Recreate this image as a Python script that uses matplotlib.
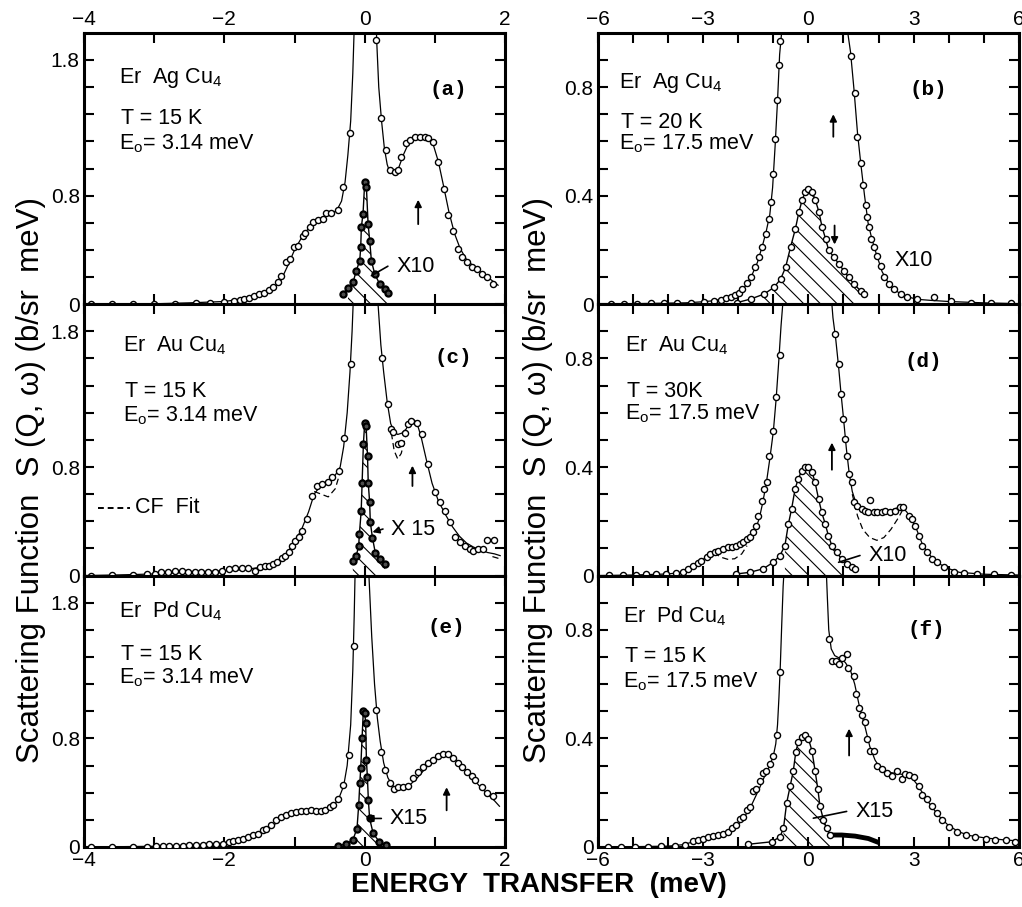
import numpy as np
import matplotlib
matplotlib.use("Agg")
from matplotlib import pyplot as plt

plt.rcParams['font.family'] = ['Liberation Sans', 'DejaVu Sans']
plt.rcParams['hatch.linewidth'] = 0.8
plt.rcParams['mathtext.fontset'] = 'custom'
plt.rcParams['mathtext.rm'] = 'Liberation Sans'

# ---------------- panel (a): ErAgCu4, T=15 K, E0=3.14 meV ----------------
a_pts_x = [-3.9, -3.6, -3.3, -3.0, -2.7, -2.4, -2.2, -2.0, -1.86, -1.78,
           -1.714, -1.643, -1.571, -1.5, -1.429, -1.357, -1.31, -1.238, -1.19, -1.119,
           -1.071, -1.01, -0.952, -0.881, -0.857, -0.786, -0.738, -0.667, -0.595, -0.548,
           -0.476, -0.381, -0.31, -0.214,
           0.167, 0.238, 0.31, 0.357, 0.429, 0.476, 0.524, 0.595, 0.643, 0.714,
           0.786, 0.857, 0.905, 0.976, 1.048, 1.133, 1.19, 1.262, 1.333, 1.381,
           1.452, 1.524, 1.595, 1.667, 1.738, 1.833]
a_pts_y = [0.0, 0.0, 0.002, 0.003, 0.005, 0.008, 0.012, 0.018, 0.025, 0.032,
           0.042, 0.049, 0.062, 0.074, 0.086, 0.104, 0.128, 0.16, 0.21, 0.309,
           0.333, 0.42, 0.432, 0.506, 0.523, 0.568, 0.605, 0.617, 0.63, 0.672,
           0.672, 0.696, 0.864, 1.259,
           1.95, 1.37, 1.136, 0.988, 0.975, 0.988, 1.086, 1.185, 1.21, 1.235,
           1.235, 1.23, 1.222, 1.198, 1.049, 0.852, 0.654, 0.543, 0.407, 0.346,
           0.309, 0.272, 0.259, 0.222, 0.202, 0.148]
a_fit_x = [-4, -3, -2.5, -2, -1.8, -1.6, -1.4, -1.3, -1.2, -1.1, -1.0, -0.9, -0.8, -0.7,
           -0.6, -0.5, -0.4, -0.33, -0.28, -0.24, -0.2, -0.17, -0.14, -0.12,
           0.14, 0.17, 0.2, 0.24, 0.28, 0.32, 0.36, 0.42, 0.48, 0.55, 0.62, 0.7, 0.8,
           0.9, 0.98, 1.05, 1.12, 1.2, 1.28, 1.36, 1.45, 1.55, 1.65, 1.75, 1.9]
a_fit_y = [0, 0.003, 0.01, 0.02, 0.035, 0.06, 0.09, 0.12, 0.17, 0.28, 0.40, 0.49, 0.56, 0.61,
           0.64, 0.66, 0.69, 0.76, 0.9, 1.1, 1.35, 1.7, 2.2, 2.6,
           2.6, 1.95, 1.6, 1.35, 1.15, 1.03, 0.97, 0.96, 1.0, 1.1, 1.18, 1.22, 1.235,
           1.22, 1.17, 1.05, 0.88, 0.68, 0.52, 0.41, 0.33, 0.28, 0.24, 0.2, 0.14]
a_el_x = [-0.31, -0.238, -0.167, -0.12, -0.071, -0.057, -0.048, -0.024, 0.0, 0.024,
          0.048, 0.071, 0.095, 0.143, 0.214, 0.286, 0.333]
a_el_y = [0.074, 0.123, 0.16, 0.247, 0.321, 0.42, 0.568, 0.667, 0.9, 0.864,
          0.593, 0.469, 0.321, 0.222, 0.148, 0.111, 0.086]

# ---------------- panel (b): ErAgCu4, T=20 K, E0=17.5 meV ----------------
b_pts_x = [-5.64, -5.26, -4.88, -4.5, -4.12, -3.74, -3.36, -2.98, -2.69, -2.5,
           -2.36, -2.22, -2.1, -1.98, -1.89, -1.74, -1.65, -1.51, -1.41, -1.32,
           -1.22, -1.13, -1.06, -1.0, -0.94, -0.89, -0.84, -0.81,
           1.22, 1.316, 1.39, 1.487, 1.563, 1.63, 1.677, 1.72, 1.77, 1.867,
           1.96, 2.06, 2.15, 2.29, 2.44, 2.63, 2.82, 3.10, 3.58, 4.05,
           4.62, 5.19, 5.76]
b_pts_y = [0.0, 0.0, 0.0025, 0.003, 0.004, 0.005, 0.006, 0.009, 0.012, 0.016,
           0.022, 0.027, 0.035, 0.043, 0.056, 0.077, 0.099, 0.136, 0.173, 0.21,
           0.259, 0.314, 0.377, 0.481, 0.607, 0.751, 0.88, 0.97,
           0.916, 0.778, 0.617, 0.519, 0.438, 0.364, 0.321, 0.284, 0.241, 0.21,
           0.179, 0.142, 0.099, 0.074, 0.056, 0.037, 0.027, 0.019, 0.025, 0.012,
           0.006, 0.005, 0.003]
b_fit_x = [-6, -5, -4, -3.5, -3, -2.7, -2.4, -2.2, -2.0, -1.8, -1.6, -1.45, -1.3, -1.2,
           -1.1, -1.02, -0.95, -0.88, -0.82, -0.75, -0.6,
           0.95, 1.1, 1.2, 1.3, 1.4, 1.5, 1.6, 1.7, 1.8, 1.9, 2.0, 2.1, 2.25, 2.4, 2.6,
           2.8, 3.1, 3.5, 4, 5, 6]
b_fit_y = [0, 0.002, 0.004, 0.005, 0.009, 0.013, 0.02, 0.028, 0.042, 0.066, 0.11, 0.155,
           0.22, 0.27, 0.33, 0.43, 0.58, 0.75, 0.92, 1.02, 1.2,
           1.2, 1.02, 0.93, 0.79, 0.63, 0.51, 0.4, 0.3, 0.245, 0.2, 0.16, 0.12, 0.085,
           0.06, 0.04, 0.028, 0.018, 0.014, 0.01, 0.005, 0.002]
b_el_x = [-2.03, -1.65, -1.27, -0.98, -0.79, -0.65, -0.51, -0.37, -0.27, -0.18,
          -0.09, 0.0, 0.11, 0.2, 0.3, 0.39, 0.49, 0.58, 0.73, 0.87,
          1.01, 1.15, 1.30, 1.49, 1.58]
b_el_y = [0.006, 0.019, 0.037, 0.062, 0.093, 0.136, 0.21, 0.278, 0.34, 0.383,
          0.414, 0.426, 0.414, 0.383, 0.34, 0.284, 0.241, 0.198, 0.173, 0.148,
          0.123, 0.099, 0.074, 0.049, 0.037]

# ---------------- panel (c): ErAuCu4, T=15 K, E0=3.14 meV ----------------
c_pts_x = [-3.9, -3.6, -3.3, -3.1, -2.995, -2.9, -2.8, -2.71, -2.61, -2.52,
           -2.42, -2.33, -2.23, -2.13, -2.04, -1.94, -1.85, -1.75, -1.66, -1.56,
           -1.49, -1.42, -1.37, -1.30, -1.25, -1.18, -1.13, -1.08, -1.03, -0.99,
           -0.94, -0.89, -0.82, -0.75, -0.68, -0.61, -0.53, -0.46, -0.36, -0.29,
           -0.20,
           0.249, 0.33, 0.378, 0.41, 0.47, 0.52, 0.57, 0.62, 0.66, 0.74,
           0.81, 0.905, 1.0, 1.07, 1.14, 1.22, 1.29, 1.36, 1.43, 1.50,
           1.55, 1.62, 1.69, 1.74, 1.84]
c_pts_y = [0.0, 0.002, 0.005, 0.008, 0.012, 0.025, 0.029, 0.032, 0.032, 0.029,
           0.025, 0.025, 0.025, 0.029, 0.037, 0.049, 0.054, 0.054, 0.054, 0.037,
           0.061, 0.074, 0.074, 0.086, 0.103, 0.127, 0.147, 0.172, 0.221, 0.257,
           0.282, 0.331, 0.417, 0.588, 0.661, 0.674, 0.691, 0.723, 0.772, 1.017,
           1.556,
           1.605, 1.262, 1.078, 1.06, 0.968, 0.98, 1.05, 1.115, 1.14, 1.127,
           1.04, 0.82, 0.613, 0.54, 0.478, 0.392, 0.282, 0.245, 0.22, 0.196,
           0.184, 0.196, 0.196, 0.265, 0.265]
c_fit_x = [-4, -3.5, -3, -2.5, -2, -1.7, -1.5, -1.35, -1.2, -1.1, -1.0, -0.9, -0.8, -0.72,
           -0.62, -0.52, -0.42, -0.35, -0.3, -0.25, -0.21, -0.18, -0.15, -0.12,
           0.15, 0.19, 0.23, 0.27, 0.32, 0.37, 0.42, 0.47, 0.53, 0.59, 0.64, 0.69, 0.74,
           0.8, 0.88, 0.96, 1.05, 1.15, 1.25, 1.35, 1.45, 1.55, 1.65, 1.75, 1.85, 1.93]
c_fit_y = [0, 0.005, 0.012, 0.025, 0.035, 0.045, 0.06, 0.08, 0.12, 0.17, 0.25, 0.34, 0.47,
           0.6, 0.67, 0.70, 0.74, 0.8, 0.95, 1.2, 1.5, 1.8, 2.2, 2.6,
           2.6, 2.0, 1.7, 1.5, 1.28, 1.12, 1.06, 1.04, 1.05, 1.08, 1.13, 1.15, 1.13,
           1.03, 0.85, 0.68, 0.55, 0.45, 0.36, 0.29, 0.24, 0.21, 0.19, 0.17, 0.16, 0.147]
c_cf1_x = [-0.72, -0.62, -0.52, -0.42, -0.35]
c_cf1_y = [0.62, 0.6, 0.58, 0.64, 0.76]
c_cf2_x = [0.38, 0.42, 0.47, 0.52, 0.57, 0.62]
c_cf2_y = [1.05, 0.92, 0.86, 0.9, 1.0, 1.1]
c_cf3_x = [1.82, 1.95]
c_cf3_y = [0.14, 0.12]
c_el_x = [-0.17, -0.12, -0.086, -0.076, -0.05, -0.037, -0.019, 0.0, 0.02, 0.04,
          0.05, 0.07, 0.08, 0.11, 0.15, 0.22, 0.29]
c_el_y = [0.11, 0.147, 0.22, 0.306, 0.478, 0.686, 0.968, 1.127, 1.10, 0.88,
          0.686, 0.54, 0.392, 0.28, 0.17, 0.12, 0.086]

# ---------------- panel (d): ErAuCu4, T=30 K, E0=17.5 meV ----------------
d_pts_x = [-5.67, -5.29, -4.90, -4.62, -4.33, -4.05, -3.76, -3.57, -3.43, -3.29,
           -3.14, -3.05, -2.90, -2.81, -2.67, -2.57, -2.43, -2.29, -2.19, -2.05,
           -1.95, -1.86, -1.76, -1.67, -1.57, -1.50, -1.43, -1.33, -1.27, -1.19,
           -1.11, -1.0, -0.92, -0.81,
           0.76, 0.86, 0.93, 1.0, 1.05, 1.11, 1.17, 1.24, 1.29, 1.38,
           1.52, 1.62, 1.71, 1.76, 1.86, 1.95, 2.10, 2.19, 2.33, 2.48,
           2.62, 2.71, 2.86, 2.95, 3.05, 3.14, 3.24, 3.38, 3.52, 3.67,
           3.86, 4.14, 4.43, 4.81, 5.29, 5.76]
d_pts_y = [0.002, 0.002, 0.002, 0.004, 0.006, 0.006, 0.009, 0.012, 0.025, 0.037,
           0.047, 0.055, 0.067, 0.080, 0.086, 0.092, 0.098, 0.104, 0.104, 0.110,
           0.117, 0.123, 0.135, 0.141, 0.160, 0.184, 0.221, 0.276, 0.319, 0.344,
           0.442, 0.534, 0.657, 0.813,
           0.89, 0.78, 0.669, 0.577, 0.503, 0.442, 0.374, 0.344, 0.27, 0.258,
           0.245, 0.239, 0.236, 0.28, 0.233, 0.233, 0.236, 0.239, 0.233, 0.239,
           0.252, 0.252, 0.221, 0.209, 0.184, 0.147, 0.110, 0.086, 0.061, 0.049,
           0.031, 0.015, 0.01, 0.006, 0.004, 0.002]
d_fit_x = [-6, -5, -4, -3.6, -3.4, -3.2, -3.0, -2.8, -2.6, -2.4, -2.2, -2.0, -1.8, -1.65,
           -1.5, -1.4, -1.3, -1.2, -1.1, -1.0, -0.92, -0.85, -0.78, -0.7,
           0.62, 0.7, 0.78, 0.86, 0.93, 1.0, 1.08, 1.16, 1.25, 1.35, 1.5, 1.7, 1.9, 2.1,
           2.3, 2.5, 2.65, 2.8, 2.95, 3.1, 3.25, 3.4, 3.6, 3.9, 4.3, 5, 6]
d_fit_y = [0, 0.002, 0.006, 0.012, 0.025, 0.042, 0.06, 0.075, 0.088, 0.098, 0.105, 0.113,
           0.128, 0.145, 0.175, 0.21, 0.27, 0.34, 0.43, 0.53, 0.65, 0.78, 0.92, 1.05,
           1.08, 0.95, 0.87, 0.77, 0.67, 0.58, 0.47, 0.38, 0.31, 0.27, 0.245, 0.235, 0.232,
           0.234, 0.238, 0.248, 0.255, 0.235, 0.205, 0.165, 0.115, 0.085, 0.055, 0.03,
           0.012, 0.005, 0.002]
d_cf1_x = [-2.7, -2.5, -2.3, -2.1, -1.9, -1.75]
d_cf1_y = [0.085, 0.068, 0.06, 0.062, 0.08, 0.11]
d_cf2_x = [1.25, 1.4, 1.55, 1.75, 1.95, 2.15, 2.35, 2.55, 2.7]
d_cf2_y = [0.3, 0.22, 0.17, 0.14, 0.13, 0.14, 0.17, 0.21, 0.245]
d_el_x = [-2.05, -1.67, -1.29, -1.0, -0.81, -0.67, -0.57, -0.48, -0.38, -0.29,
          -0.19, -0.10, 0.0, 0.10, 0.19, 0.29, 0.38, 0.48, 0.57, 0.67,
          0.81, 0.95, 1.10, 1.24, 1.33]
d_el_y = [0.006, 0.012, 0.025, 0.049, 0.074, 0.110, 0.19, 0.245, 0.319, 0.356,
          0.387, 0.401, 0.399, 0.383, 0.344, 0.282, 0.233, 0.19, 0.147, 0.11,
          0.086, 0.061, 0.043, 0.031, 0.025]

# ---------------- panel (e): ErPdCu4, T=15 K, E0=3.14 meV ----------------
e_pts_x = [-3.9, -3.6, -3.3, -3.1, -2.976, -2.88, -2.786, -2.69, -2.595, -2.5,
           -2.405, -2.31, -2.214, -2.12, -2.024, -1.93, -1.88, -1.81, -1.74, -1.67,
           -1.595, -1.52, -1.45, -1.40, -1.33, -1.26, -1.19, -1.12, -1.05, -0.976,
           -0.905, -0.833, -0.762, -0.69, -0.619, -0.571, -0.5, -0.452, -0.381, -0.31,
           -0.229, -0.152,
           0.157, 0.238, 0.295, 0.357, 0.414, 0.476, 0.548, 0.619, 0.69, 0.762,
           0.833, 0.905, 0.976, 1.048, 1.119, 1.19, 1.262, 1.333, 1.381, 1.452,
           1.524, 1.571, 1.667, 1.738, 1.824]
e_pts_y = [0.0, 0.0, 0.002, 0.003, 0.005, 0.005, 0.007, 0.01, 0.01, 0.012,
           0.017, 0.017, 0.02, 0.025, 0.025, 0.037, 0.044, 0.054, 0.062, 0.074,
           0.086, 0.099, 0.123, 0.136, 0.160, 0.197, 0.222, 0.234, 0.251, 0.259,
           0.266, 0.266, 0.271, 0.266, 0.266, 0.271, 0.291, 0.308, 0.350, 0.456,
           0.678, 1.484,
           1.011, 0.703, 0.567, 0.468, 0.424, 0.439, 0.444, 0.449, 0.505, 0.555,
           0.587, 0.616, 0.641, 0.671, 0.685, 0.685, 0.653, 0.621, 0.587, 0.555,
           0.523, 0.493, 0.444, 0.394, 0.375]
e_fit_x = [-4, -3.5, -3, -2.5, -2.2, -2.0, -1.8, -1.6, -1.45, -1.3, -1.2, -1.1, -1.0, -0.9,
           -0.8, -0.7, -0.6, -0.5, -0.42, -0.36, -0.3, -0.25, -0.2, -0.17, -0.15, -0.13,
           -0.11,
           0.03, 0.06, 0.1, 0.14, 0.18, 0.22, 0.27, 0.33, 0.4, 0.47, 0.55, 0.65, 0.75,
           0.85, 0.95, 1.05, 1.15, 1.25, 1.35, 1.45, 1.55, 1.65, 1.75, 1.85, 1.92]
e_fit_y = [0, 0.002, 0.005, 0.012, 0.02, 0.028, 0.045, 0.075, 0.11, 0.16, 0.2, 0.23, 0.25,
           0.262, 0.266, 0.266, 0.268, 0.285, 0.32, 0.37, 0.45, 0.6, 0.9, 1.3, 1.7, 2.2,
           2.6,
           2.6, 2.0, 1.55, 1.2, 0.95, 0.78, 0.62, 0.51, 0.45, 0.43, 0.435, 0.46, 0.51,
           0.57, 0.63, 0.665, 0.678, 0.67, 0.62, 0.56, 0.5, 0.44, 0.39, 0.34, 0.3]
e_el_x = [-0.38, -0.26, -0.17, -0.11, -0.086, -0.07, -0.057, -0.038, -0.02, 0.0,
          0.014, 0.024, 0.038, 0.052, 0.07, 0.12, 0.21, 0.31]
e_el_y = [0.005, 0.025, 0.05, 0.136, 0.308, 0.468, 0.58, 0.80, 1.0, 0.986,
          0.912, 0.64, 0.518, 0.345, 0.21, 0.1, 0.037, 0.012]

# ---------------- panel (f): ErPdCu4, T=15 K, E0=17.5 meV ----------------
f_pts_x = [-5.71, -5.33, -4.95, -4.57, -4.19, -3.81, -3.52, -3.29, -3.14, -3.0,
           -2.86, -2.71, -2.57, -2.43, -2.29, -2.17, -2.05, -1.95, -1.86, -1.76,
           -1.67, -1.57, -1.48, -1.38, -1.29, -1.22, -1.10, -1.0, -0.90, -0.81,
           0.59, 0.67, 0.78, 0.86, 0.95, 1.10, 1.14, 1.29, 1.35, 1.43,
           1.52, 1.60, 1.67, 1.76, 1.86, 1.95, 2.10, 2.24, 2.38, 2.52,
           2.67, 2.76, 2.86, 3.0, 3.14, 3.24, 3.38, 3.52, 3.67, 3.81,
           4.0, 4.24, 4.48, 4.76, 5.05, 5.33, 5.62, 5.90]
f_pts_y = [0.0, 0.0, 0.001, 0.001, 0.002, 0.005, 0.009, 0.022, 0.027, 0.031,
           0.037, 0.041, 0.044, 0.047, 0.056, 0.069, 0.081, 0.102, 0.112, 0.135,
           0.147, 0.206, 0.212, 0.243, 0.274, 0.281, 0.306, 0.337, 0.411, 0.646,
           0.767, 0.686, 0.686, 0.673, 0.696, 0.711, 0.661, 0.630, 0.564, 0.511,
           0.486, 0.461, 0.399, 0.355, 0.355, 0.299, 0.287, 0.274, 0.262, 0.281,
           0.249, 0.268, 0.264, 0.256, 0.224, 0.193, 0.175, 0.15, 0.125, 0.1,
           0.075, 0.056, 0.044, 0.037, 0.031, 0.027, 0.025, 0.019]
f_fit_x = [-6, -5, -4, -3.6, -3.3, -3.0, -2.7, -2.4, -2.2, -2.0, -1.8, -1.6, -1.4, -1.25,
           -1.1, -1.0, -0.93, -0.88, -0.84, -0.8, -0.76, -0.72, -0.68,
           0.5, 0.54, 0.58, 0.65, 0.75, 0.9, 1.05, 1.2, 1.32, 1.45, 1.6, 1.75, 1.9, 2.05,
           2.3, 2.55, 2.8, 2.95, 3.1, 3.3, 3.5, 3.75, 4.0, 4.3, 4.6, 5.0, 5.5, 6.0]
f_fit_y = [0, 0.001, 0.003, 0.008, 0.018, 0.03, 0.04, 0.05, 0.062, 0.082, 0.115, 0.16,
           0.215, 0.26, 0.3, 0.335, 0.38, 0.45, 0.55, 0.67, 0.82, 0.96, 1.05,
           1.05, 0.92, 0.8, 0.73, 0.705, 0.695, 0.68, 0.65, 0.6, 0.52, 0.45, 0.37, 0.32,
           0.29, 0.275, 0.27, 0.265, 0.255, 0.23, 0.19, 0.15, 0.11, 0.078, 0.055, 0.042,
           0.034, 0.027, 0.022]
f_el_x = [-1.71, -1.05, -0.81, -0.71, -0.62, -0.52, -0.43, -0.36, -0.29, -0.19,
          -0.10, 0.0, 0.10, 0.19, 0.27, 0.33, 0.43, 0.52, 0.62]
f_el_y = [0.01, 0.019, 0.037, 0.069, 0.162, 0.224, 0.281, 0.349, 0.387, 0.405,
          0.414, 0.399, 0.355, 0.281, 0.212, 0.150, 0.1, 0.069, 0.044]
f_tail_x = [0.62, 0.95, 1.33, 1.71, 1.95]
f_tail_y = [0.044, 0.044, 0.04, 0.031, 0.019]

# labels / annotations
compounds = ["Er  Ag Cu$_4$", "Er  Ag Cu$_4$", "Er  Au Cu$_4$",
             "Er  Au Cu$_4$", "Er  Pd Cu$_4$", "Er  Pd Cu$_4$"]
temps = ["T = 15 K", "T = 20 K", "T = 15 K", "T = 30K", "T = 15 K", "T = 15 K"]
energies = ["E$_\\mathrm{o}$= 3.14 meV", "E$_\\mathrm{o}$= 17.5 meV", "E$_\\mathrm{o}$= 3.14 meV",
            "E$_\\mathrm{o}$= 17.5 meV", "E$_\\mathrm{o}$= 3.14 meV", "E$_\\mathrm{o}$= 17.5 meV"]
letters = ["(a)", "(b)", "(c)", "(d)", "(e)", "(f)"]
scales = ["X10", "X10", "X 15", "X10", "X15", "X15"]


fig = plt.figure(figsize=(10.22, 9.07), dpi=100)

L_left, R_left, W = 0.0822, 0.585, 0.412
bot, H = 0.0662, 0.2992
axes = []
for row in range(3):
    for col in range(2):
        x0 = L_left if col == 0 else R_left
        y0 = bot + (2 - row) * H
        axes.append(fig.add_axes([x0, y0, W, H]))

ms = 4.4


def style_axes(ax, left_col, row):
    if left_col:
        ax.set_xlim(-4, 2)
        ax.set_ylim(0, 2.0)
        ax.set_xticks(np.arange(-4, 3, 1))
        ax.set_xticklabels(['−4', '', '−2', '', '0', '', '2'])
        ax.set_yticks(np.arange(0, 1.9, 0.2))
        ax.set_yticklabels(['0', '', '', '', '0.8', '', '', '', '', '1.8'])
    else:
        ax.set_xlim(-6, 6)
        ax.set_ylim(0, 1.0)
        ax.set_xticks(np.arange(-6, 7, 1))
        ax.set_xticklabels(['−6', '', '', '−3', '', '', '0', '', '', '3', '', '', '6'])
        ax.set_yticks(np.arange(0, 0.95, 0.1))
        ax.set_yticklabels(['0', '', '', '', '0.4', '', '', '', '0.8', ''])
    ax.tick_params(direction='in', length=7, width=1.5, top=True, right=True,
                   labelsize=15, pad=3,
                   labeltop=(row == 0), labelbottom=(row == 2))
    for sp in ax.spines.values():
        sp.set_linewidth(2.2)


def draw_panel(ax, pts_x, pts_y, fit_x, fit_y, el_x, el_y, hatch_lo, hatch_hi, el_filled):
    ax.plot(fit_x, fit_y, '-', color='k', lw=0.9, zorder=2)
    ax.plot(pts_x, pts_y, 'o', ms=ms, mfc='white', mec='k', mew=1.0, zorder=3)
    ex = np.array(el_x)
    ey = np.array(el_y)
    ax.fill_between(ex, ey, 0, where=(ex >= hatch_lo) & (ex <= hatch_hi),
                    facecolor='none', edgecolor='k', hatch='\\\\', lw=0, zorder=1)
    ax.plot(ex, ey, '-', color='k', lw=1.0, zorder=2)
    if el_filled:
        ax.plot(ex, ey, 'o', ms=ms, mfc='0.3', mec='k', mew=1.6, zorder=3)
    else:
        ax.plot(ex, ey, 'o', ms=ms, mfc='white', mec='k', mew=1.0, zorder=3)


panel_data = [
    (a_pts_x, a_pts_y, a_fit_x, a_fit_y, a_el_x, a_el_y, -0.3, 0.34, True),
    (b_pts_x, b_pts_y, b_fit_x, b_fit_y, b_el_x, b_el_y, -1.3, 1.6, False),
    (c_pts_x, c_pts_y, c_fit_x, c_fit_y, c_el_x, c_el_y, -0.17, 0.3, True),
    (d_pts_x, d_pts_y, d_fit_x, d_fit_y, d_el_x, d_el_y, -0.8, 1.35, False),
    (e_pts_x, e_pts_y, e_fit_x, e_fit_y, e_el_x, e_el_y, -0.3, 0.3, True),
    (f_pts_x, f_pts_y, f_fit_x, f_fit_y, f_el_x, f_el_y, -0.8, 0.65, False),
]

# text positions in axes fraction: (name_x, name_y, T_y, E_y, letter_x, letter_y)
text_pos = [
    (0.083, 0.835, 0.685, 0.59, 0.865, 0.79),
    (0.050, 0.815, 0.670, 0.59, 0.784, 0.79),
    (0.092, 0.846, 0.680, 0.59, 0.876, 0.805),
    (0.064, 0.846, 0.680, 0.595, 0.772, 0.79),
    (0.083, 0.867, 0.710, 0.625, 0.860, 0.81),
    (0.060, 0.850, 0.700, 0.61, 0.780, 0.80),
]

for i, ax in enumerate(axes):
    row, col = divmod(i, 2)
    style_axes(ax, col == 0, row)
    draw_panel(ax, *panel_data[i])
    nx, ny, ty, ey, lx, ly = text_pos[i]
    ax.text(nx, ny, compounds[i], transform=ax.transAxes, fontsize=15.5, va='center')
    ax.text(nx + 0.005, ty, temps[i], transform=ax.transAxes, fontsize=15.5, va='center')
    ax.text(nx, ey, energies[i], transform=ax.transAxes, fontsize=15.5, va='center')
    ax.text(lx, ly, letters[i], transform=ax.transAxes, fontsize=15, va='center',
            ha='center', family='Liberation Mono', weight='bold')

# CF fit dashed curves
for ax, cx, cy in [(axes[2], c_cf1_x, c_cf1_y), (axes[2], c_cf2_x, c_cf2_y),
                   (axes[2], c_cf3_x, c_cf3_y), (axes[3], d_cf1_x, d_cf1_y),
                   (axes[3], d_cf2_x, d_cf2_y)]:
    ax.plot(cx, cy, '--', color='k', lw=0.9, dashes=(5, 3), zorder=2)
axes[2].plot([-3.8, -3.35], [0.5, 0.5], '--', color='k', lw=1.4, dashes=(3, 2))
axes[2].text(-3.28, 0.5, "CF  Fit", fontsize=15.5, va='center')

# elastic tail in (f)
axes[5].plot(f_tail_x, f_tail_y, '-', color='k', lw=3.5, zorder=2)

# scale-factor labels with pointer lines
pointers = [
    (axes[0], (0.095, 0.21), (0.45, 0.28), '-'),
    (axes[1], (1.05, 0.11), (2.44, 0.16), None),
    (axes[2], (0.11, 0.32), (0.38, 0.343), '-|>'),
    (axes[3], (0.86, 0.049), (1.71, 0.074), '-'),
    (axes[4], (0.024, 0.21), (0.357, 0.21), '-|>'),
    (axes[5], (0.14, 0.106), (1.33, 0.131), '-'),
]
for i, (ax, tip, txt, style) in enumerate(pointers):
    ax.text(txt[0], txt[1], scales[i], fontsize=15.5, va='center')
    if style is not None:
        ax.annotate('', xy=tip, xytext=(txt[0] - 0.02 * (ax.get_xlim()[1] - ax.get_xlim()[0]), txt[1]),
                    arrowprops=dict(arrowstyle=style, color='k', lw=1.2,
                                    mutation_scale=10, shrinkA=0, shrinkB=0))

# crystal-field transition arrows
arrows = [
    (axes[0], 0.762, 0.59, 0.77),
    (axes[1], 0.71, 0.617, 0.70),
    (axes[1], 0.746, 0.29, 0.22),
    (axes[2], 0.68, 0.66, 0.81),
    (axes[3], 0.67, 0.39, 0.49),
    (axes[4], 1.167, 0.27, 0.44),
    (axes[5], 1.16, 0.337, 0.436),
]
for ax, xa, y0, y1 in arrows:
    ax.annotate('', xy=(xa, y1), xytext=(xa, y0),
                arrowprops=dict(arrowstyle='-|>', color='k', lw=1.3,
                                mutation_scale=10, shrinkA=0, shrinkB=0))

ylab = "Scattering Function  S (Q, ω) (b/sr  meV)"
fig.text(0.030, 0.471, ylab, rotation=90, ha='center', va='center', fontsize=22.5)
fig.text(0.526, 0.471, ylab, rotation=90, ha='center', va='center', fontsize=22.5)
fig.text(0.527, 0.024, "ENERGY  TRANSFER  (meV)", ha='center', va='center',
         fontsize=20, weight='bold')

fig.savefig("out.png", dpi=100)
